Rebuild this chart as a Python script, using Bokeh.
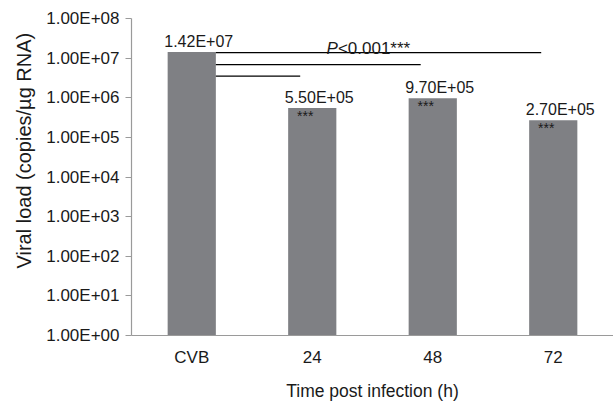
import math
from bokeh.plotting import figure
from bokeh.models import (ColumnDataSource, Range1d, FixedTicker, CustomJSTickFormatter,
                          Label, Title)
from bokeh.core.properties import value
from bokeh.embed import file_html
from bokeh.resources import INLINE

# ---- data ----
categories = ["CVB", "24", "48", "72"]
viral_load = [1.42e7, 5.50e5, 9.70e5, 2.70e5]
value_labels = ["1.42E+07", "5.50E+05", "9.70E+05", "2.70E+05"]
star_labels = ["", "***", "***", "***"]
y_tick_values = [1e0, 1e1, 1e2, 1e3, 1e4, 1e5, 1e6, 1e7, 1e8]
y_tick_labels = ["1.00E+00", "1.00E+01", "1.00E+02", "1.00E+03", "1.00E+04",
                 "1.00E+05", "1.00E+06", "1.00E+07", "1.00E+08"]
# significance brackets (from CVB to each time point)
bracket_start = [0.7, 0.7, 0.7]
bracket_end = [3.4, 2.4, 1.4]
bracket_y = [1.38e7, 6.85e6, 3.53e6]
p_text_x = 1.97
p_text_y = 1.77e7

FONT = "Liberation Sans"
BAR_COLOR = "#7f8084"
AXIS_COLOR = "#9a9a9a"
TEXT_COLOR = "#1a1a1a"

xpos = [i + 0.5 for i in range(len(categories))]

p = figure(width=613, height=404, output_backend="svg", toolbar_location=None,
           y_axis_type="log", x_range=Range1d(0, len(categories)),
           y_range=Range1d(y_tick_values[0], y_tick_values[-1]),
           min_border_left=131, min_border_right=0, min_border_top=18,
           min_border_bottom=69)
p.outline_line_color = None
p.grid.visible = False
p.background_fill_color = "white"
p.border_fill_color = "white"

src = ColumnDataSource(dict(x=xpos, top=viral_load, lab=value_labels, stars=star_labels,
                            bottom=[y_tick_values[0]] * len(xpos)))
p.vbar(x="x", top="top", bottom="bottom", width=0.4, source=src,
       fill_color=BAR_COLOR, line_color=None)

p.text(x="x", y="top", text="lab", source=src, text_align="center",
       text_baseline="alphabetic", x_offset=7, y_offset=-11,
       text_font=value(FONT), text_font_size="16px", text_color=TEXT_COLOR)
p.text(x="x", y="top", text="stars", source=src, text_align="center",
       text_baseline="top", x_offset=-7, y_offset=0,
       text_font=value(FONT), text_font_size="14px", text_color=TEXT_COLOR)

bsrc = ColumnDataSource(dict(x0=bracket_start, x1=bracket_end, y=bracket_y))
p.segment(x0="x0", y0="y", x1="x1", y1="y", source=bsrc, line_color="black",
          line_width=1.3)

p.add_layout(Label(x=p_text_x, y=p_text_y, text="P", text_align="right",
                   text_baseline="alphabetic", text_font=FONT, text_font_size="17px",
                   text_font_style="italic", text_color=TEXT_COLOR, x_offset=-31))
p.add_layout(Label(x=p_text_x, y=p_text_y, text="<0.001***", text_align="left",
                   text_baseline="alphabetic", text_font=FONT, text_font_size="17px",
                   text_color=TEXT_COLOR, x_offset=-31))

# axes
xa = p.xaxis[0]
xa.ticker = FixedTicker(ticks=xpos)
xa.major_label_overrides = {float(v): c for v, c in zip(xpos, categories)}
xa.major_tick_line_color = None
xa.minor_tick_line_color = None
xa.axis_line_color = AXIS_COLOR
xa.axis_line_width = 1.2
xa.major_label_text_font = FONT
xa.major_label_text_font_size = "17px"
xa.major_label_text_color = TEXT_COLOR
xa.major_label_standoff = 6
xa.axis_label = "Time post infection (h)"
xa.axis_label_text_font = FONT
xa.axis_label_text_font_size = "17.5px"
xa.axis_label_text_font_style = "normal"
xa.axis_label_text_color = TEXT_COLOR
xa.axis_label_standoff = 11

ya = p.yaxis[0]
ya.ticker = FixedTicker(ticks=y_tick_values, minor_ticks=[])
ya.formatter = CustomJSTickFormatter(args=dict(vals=y_tick_values, labs=y_tick_labels), code="""
    let best = 0, bd = Infinity;
    for (let i = 0; i < vals.length; i++) {
        const d = Math.abs(Math.log10(vals[i]) - Math.log10(tick));
        if (d < bd) { bd = d; best = i; }
    }
    return labs[best];
""")
ya.axis_line_color = AXIS_COLOR
ya.axis_line_width = 1.2
ya.major_tick_line_color = AXIS_COLOR
ya.major_tick_in = 0
ya.major_tick_out = 6
ya.minor_tick_line_color = None
ya.major_label_text_font = FONT
ya.major_label_text_font_size = "17px"
ya.major_label_text_color = TEXT_COLOR
ya.major_label_standoff = 6

p.add_layout(Title(text="Viral load (copies/µg RNA)", align="left", offset=67,
                   text_font=FONT, text_font_size="20px", text_font_style="normal",
                   text_color=TEXT_COLOR, standoff=17), "left")

open("out.html", "w").write(file_html(p, INLINE))
